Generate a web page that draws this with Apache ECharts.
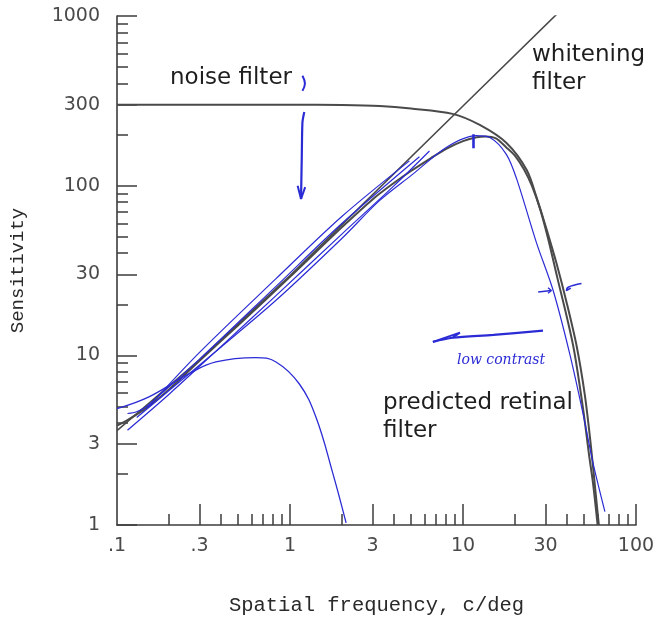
<!DOCTYPE html>
<html>
<head>
<meta charset="utf-8">
<script src="https://cdn.jsdelivr.net/npm/echarts@6/dist/echarts.min.js"></script>
<style>
  html, body { margin: 0; padding: 0; background: #fff; }
  #chart { width: 662px; height: 632px; }
</style>
</head>
<body>
<div id="chart"></div>
<script>
// tick positions / labels
const xMajorTicks = [0.3, 1, 3, 10, 30, 100];
const xMinorTicks = [0.2, 0.4, 0.5, 0.6, 0.7, 0.8, 0.9, 2, 4, 5, 6, 7, 8, 9, 20, 40, 50, 60, 70, 80, 90];
const xTickLabels = [0.1, 0.3, 1, 3, 10, 30, 100];
const yMajorTicks = [1, 3, 10, 30, 100, 300, 1000];
const yMinorTicks = [2, 4, 5, 6, 7, 8, 9, 20, 40, 50, 60, 70, 80, 90, 200, 400, 500, 600, 700, 800, 900];
const yTickLabels = [1, 3, 10, 30, 100, 300, 1000];

// printed curves [freq, sensitivity]
const noiseFilter = [[0.1, 300], [1, 300], [2, 299], [3.3, 295], [5, 285], [8.7, 265], [12.5, 228], [17.9, 178],
  [23.35, 123.6], [26.7, 84.5], [30.5, 54.7], [34.8, 34.5], [39.8, 20.3], [45.5, 11.2], [50.6, 5.84], [54.8, 2.96], [58.6, 1.5], [61, 1]];
const whiteningFilter = [[0.1, 3.6], [0.3, 9.4], [1, 29.5], [10, 295], [35, 1030]];
const retinalFilter = [[0.1, 3.85], [0.115, 4.15], [0.15, 4.95], [0.2, 6.3], [0.3, 9.3], [0.5, 15], [1, 29], [2, 57], [3, 83],
  [4, 104], [5, 122], [6.5, 145], [8, 165], [10, 183], [12, 193], [13.5, 195], [15.5, 190], [17.8, 168], [20, 150], [22.5, 125],
  [25, 100], [28, 72], [31, 49], [35, 29], [40, 16.5], [44, 10.5], [49.5, 4.8], [53.5, 2.6], [56.5, 1.75], [60, 1]];

// hand-drawn blue curves
const blueA = [[0.15, 4.9], [0.3, 10.4], [0.83, 28.3], [2, 66], [4.9, 140]];
const blueB = [[0.115, 4.54], [0.13, 4.65], [0.15, 5.05], [0.3, 9.5], [0.83, 25.5], [2, 60], [5.6, 148]];
const blueC = [[0.115, 3.62], [0.2, 5.9], [0.4, 11.3], [0.83, 22.5], [2, 52], [4, 100], [6.4, 160]];
const blueRetinal = [[0.13, 4.3], [0.2, 6.2], [0.4, 11.2], [0.83, 21.1], [2, 49], [3.29, 81.6], [5.13, 117], [8, 168],
  [11.9, 197], [14.3, 192], [17.8, 153], [20.4, 110], [26.6, 46], [33.2, 24.1], [41.4, 10.2], [49.4, 4.54], [56.5, 2.31], [66.1, 1.2]];
const lowContrast = [[0.1, 4.85], [0.153, 5.69], [0.261, 7.8], [0.373, 9.14], [0.635, 9.7], [0.83, 9.14], [1.13, 6.8],
  [1.41, 4.34], [1.77, 2.01], [2.11, 1.03]];

// hand-drawn marks
const peakMark = [[11.5, 201], [11.5, 166]];
const noiseMark = [[1.18, 444], [1.22, 400], [1.18, 362]];
const noiseArrow = [[1.21, 272], [1.2, 262], [1.18, 236], [1.17, 150], [1.158, 83.5]];
const noiseArrowHead = [[1.107, 100], [1.158, 83.5], [1.224, 98]];
const gapArrow = [[27.2, 23.6], [32.4, 24.1]];
const gapArrowHead = [[31, 25], [32.4, 24.1], [31, 23.2]];
const gapMark = [[48.4, 26.5], [40.5, 25.2], [39.6, 24.1], [42, 24.9]];
const leftArrow = [[29, 14], [15, 13.2], [8.7, 12.7], [6.7, 12]];
const leftArrowHead = [[6.7, 12], [9.6, 13.6], [8.7, 12.7]];

const chart = echarts.init(document.getElementById('chart'));

const axisColor = '#3c3c3c';
const labelFont = { fontFamily: 'DejaVu Sans', fontSize: 19, color: '#4a4a4a' };

const logX = (extra) => Object.assign({
  type: 'log', logBase: 10, min: 0.1, max: 100, gridIndex: 0, position: 'bottom',
  axisLine: { show: false, onZero: false }, axisTick: { show: false }, axisLabel: { show: false },
  splitLine: { show: false }, minorTick: { show: false }
}, extra);
const logY = (extra) => Object.assign({
  type: 'log', logBase: 10, min: 1, max: 1000, gridIndex: 0, position: 'left',
  axisLine: { show: false, onZero: false }, axisTick: { show: false }, axisLabel: { show: false },
  splitLine: { show: false }, minorTick: { show: false }
}, extra);

const black = (data, w) => ({
  type: 'line', data: data, xAxisIndex: 0, yAxisIndex: 0, symbol: 'none', smooth: 0.3,
  lineStyle: { color: '#4a4a4a', width: w }, z: 3
});
const blue = (data, w, smooth) => ({
  type: 'line', data: data, xAxisIndex: 0, yAxisIndex: 0, symbol: 'none', smooth: smooth,
  lineStyle: { color: '#2b2bd6', width: w }, z: 5
});

chart.setOption({
  animation: false,
  backgroundColor: '#fff',
  grid: { left: 117, right: 26, top: 16, bottom: 107 },
  xAxis: [
    logX({
      axisLine: { show: true, onZero: false, lineStyle: { color: axisColor, width: 1.6 } },
      name: 'Spatial frequency, c/deg', nameLocation: 'middle', nameGap: 70,
      nameTextStyle: { fontFamily: 'Liberation Mono', fontSize: 20.5, color: '#2a2a2a' }
    }),
    logX({
      axisTick: { show: true, inside: true, length: 21, customValues: xMajorTicks, lineStyle: { color: axisColor, width: 1.5 } },
      axisLabel: Object.assign({
        show: true, customValues: xTickLabels, margin: 12,
        formatter: v => (v < 1 ? String(v).replace('0.', '.') : String(v))
      }, labelFont)
    }),
    logX({
      axisTick: { show: true, inside: true, length: 11, customValues: xMinorTicks, lineStyle: { color: axisColor, width: 1.5 } }
    })
  ],
  yAxis: [
    logY({
      axisLine: { show: true, onZero: false, lineStyle: { color: axisColor, width: 1.6 } },
      name: 'Sensitivity', nameLocation: 'middle', nameGap: 90,
      nameTextStyle: { fontFamily: 'Liberation Mono', fontSize: 19, color: '#2a2a2a' }
    }),
    logY({
      axisTick: { show: true, inside: true, length: 20, customValues: yMajorTicks, lineStyle: { color: axisColor, width: 1.5 } },
      axisLabel: Object.assign({ show: true, customValues: yTickLabels, margin: 17, formatter: v => String(v) }, labelFont)
    }),
    logY({
      axisTick: { show: true, inside: true, length: 11, customValues: yMinorTicks, lineStyle: { color: axisColor, width: 1.5 } }
    })
  ],
  series: [
    black(noiseFilter, 2),
    black(retinalFilter, 2),
    Object.assign(black(whiteningFilter, 1.6), { smooth: false }),
    blue(blueA, 1.2, 0.3),
    blue(blueB, 1.2, 0.3),
    blue(blueC, 1.2, 0.3),
    blue(blueRetinal, 1.2, 0.3),
    blue(lowContrast, 1.3, 0.4),
    blue(peakMark, 2.6, false),
    blue(noiseMark, 2, 0.4),
    blue(noiseArrow, 2.2, 0.3),
    blue(noiseArrowHead, 2, false),
    blue(gapArrow, 1.6, false),
    blue(gapArrowHead, 1.4, false),
    blue(gapMark, 1.6, 0.4),
    blue(leftArrow, 2.2, 0.3),
    blue(leftArrowHead, 2, false)
  ],
  graphic: [
    { type: 'text', left: 170, top: 67, style: { text: 'noise filter', font: '23px "DejaVu Sans"', fill: '#1e1e1e' } },
    { type: 'text', left: 532, top: 41, style: { text: 'whitening\nfilter', font: '23px "DejaVu Sans"', fill: '#1e1e1e', lineHeight: 28 } },
    { type: 'text', left: 383, top: 389, style: { text: 'predicted retinal\nfilter', font: '23px "DejaVu Sans"', fill: '#1e1e1e', lineHeight: 28 } },
    { type: 'text', left: 457, top: 353, style: { text: 'low contrast', font: 'italic 14px "DejaVu Serif"', fill: '#2b2bd6' } }
  ]
});
</script>
</body>
</html>
